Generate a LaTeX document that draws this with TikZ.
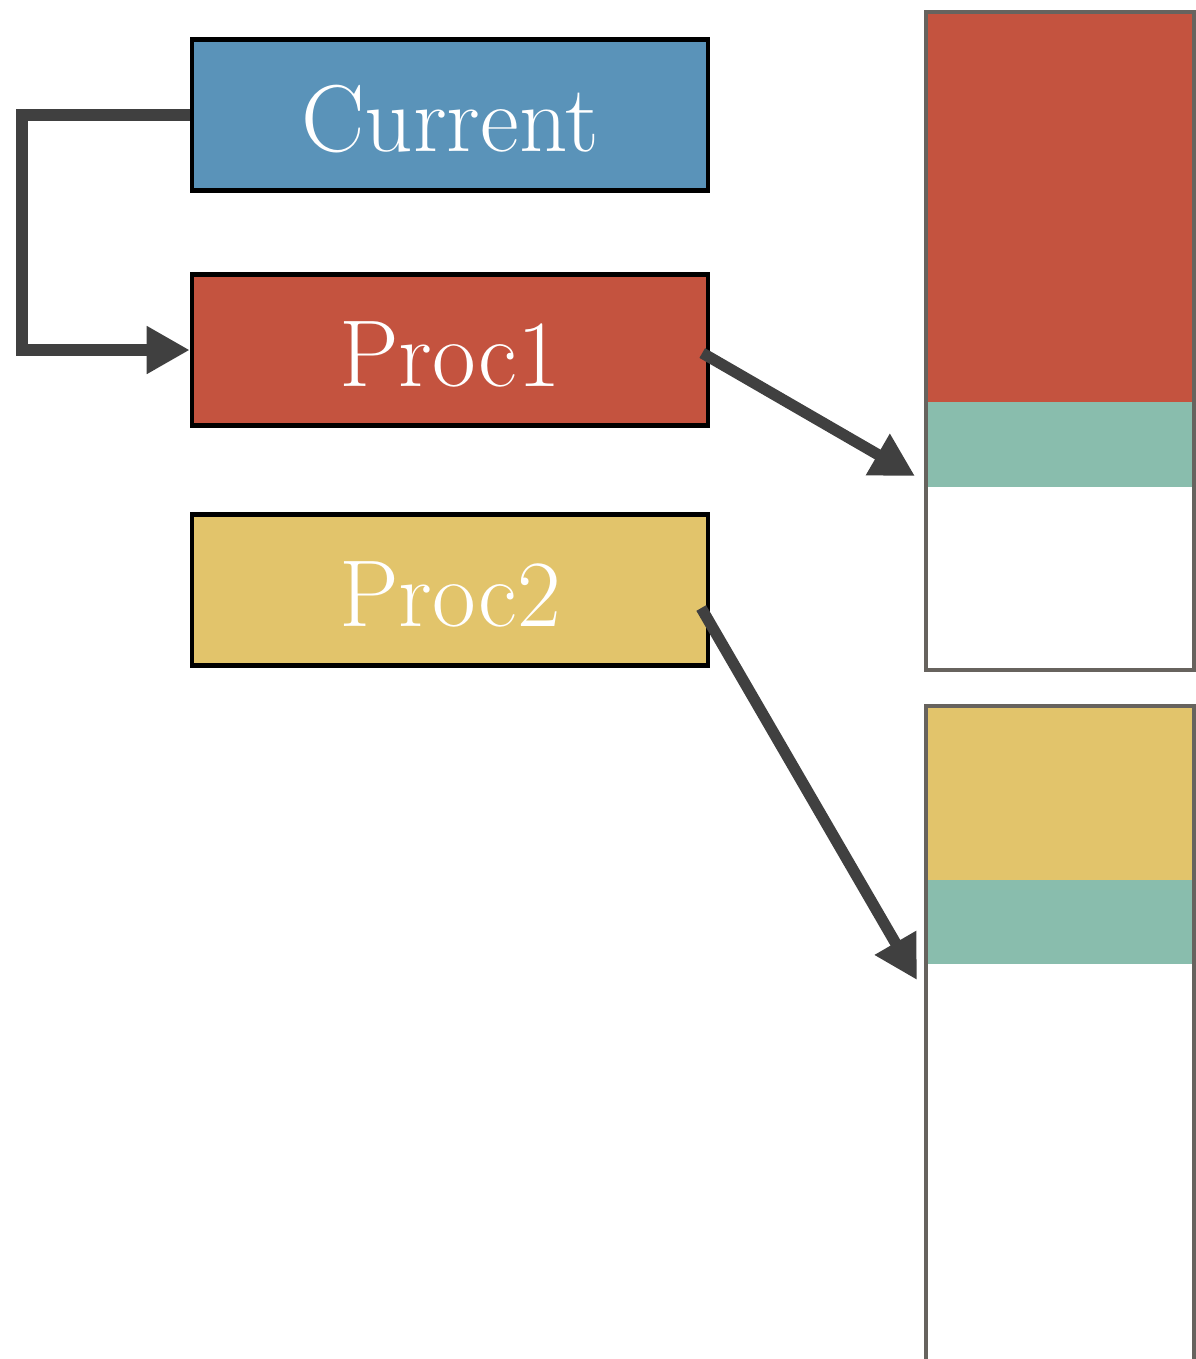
\documentclass[tikz,border=0pt]{standalone}
\usepackage{tikz}
\usetikzlibrary{arrows.meta}

\definecolor{curblue}{HTML}{5A93B9}
\definecolor{procred}{HTML}{C4533F}
\definecolor{procyellow}{HTML}{E2C46B}
\definecolor{stackteal}{HTML}{89BDAD}
\definecolor{stackgray}{HTML}{67635E}
\definecolor{arrowgray}{HTML}{404040}

\begin{document}
\begin{tikzpicture}[x=0.01cm,y=-0.01cm,
  proc node/.style={rectangle,draw=black,line width=1.2pt,minimum width=5.16cm,minimum height=1.51cm,inner sep=0pt,text height=0.72cm,text depth=0pt,text=white,font=\fontsize{27}{32}\selectfont},
  link/.style={draw=arrowgray,line width=3.2pt,-{Triangle[length=0.43cm,width=0.45cm]}},
  stack/.style={draw=stackgray,line width=1.2pt}]

  \useasboundingbox (0,0) rectangle (1196,1359);

  % left side
  \node[proc node,fill=curblue] (1) at (450,115) {Current};
  \node[proc node,fill=procred] (2) at (450,350) {Proc1};
  \node[proc node,fill=procyellow] (3) at (450,590) {Proc2};

  % stacks
  \fill[procred] (926,12) rectangle (1194,402);
  \fill[stackteal] (926,402) rectangle (1194,487);
  \draw[stack] (926,12) rectangle (1194,670);

  \fill[procyellow] (926,706) rectangle (1194,880);
  \fill[stackteal] (926,880) rectangle (1194,964);
  \draw[stack] (926,1359) -- (926,706) -- (1194,706) -- (1194,1359);

  \coordinate (t1) at (915,476);
  \coordinate (t2) at (917,980);

  % arrows
  \draw[link] (1.west) -| (22,350) -- (2.west);
  \draw[link] ([xshift=-0.08cm,yshift=-0.03cm]2.east) -- (t1);
  \draw[link] ([xshift=-0.09cm,yshift=-0.18cm]3.east) -- (t2);
\end{tikzpicture}
\end{document}
